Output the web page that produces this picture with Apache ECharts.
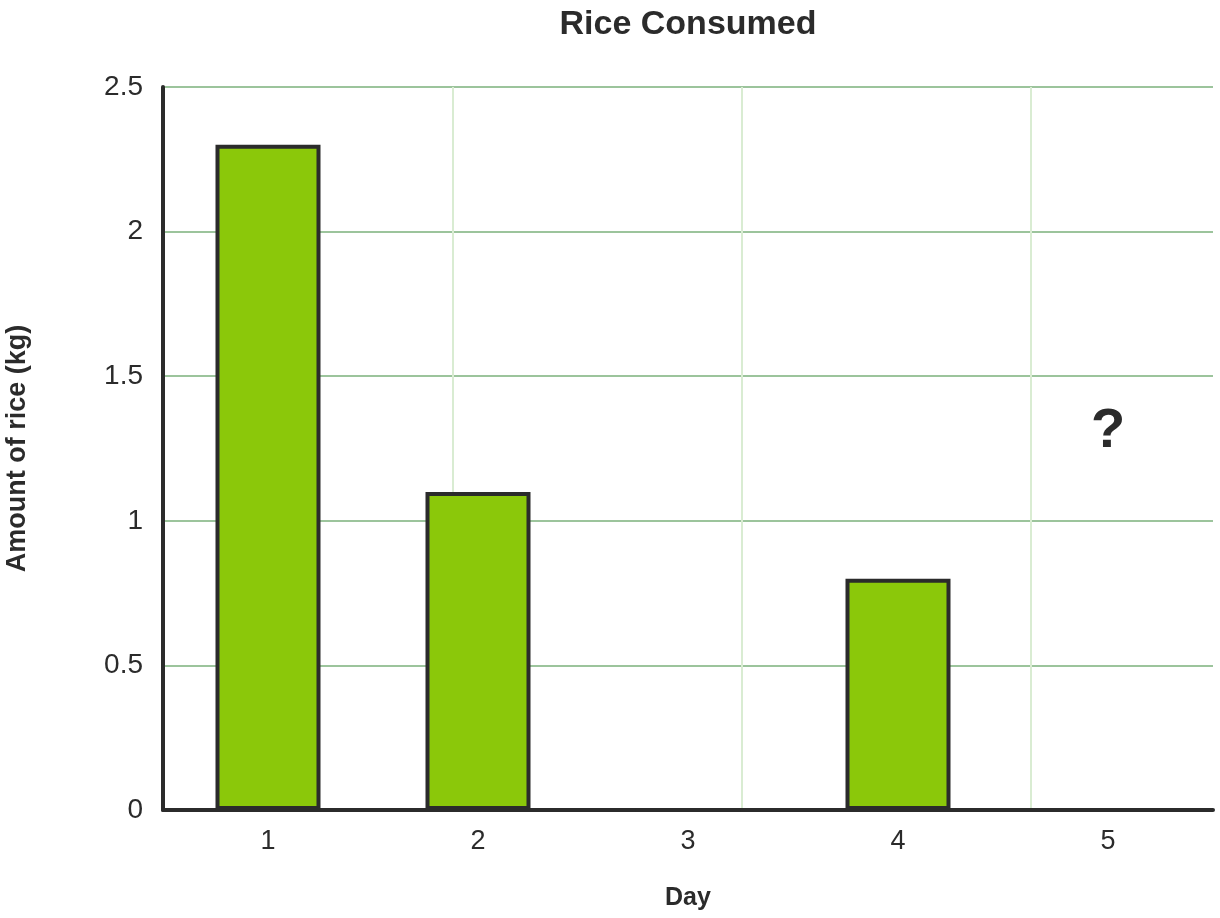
<!DOCTYPE html>
<html>
<head>
    <title>Rice Consumed</title>
    <meta charset="utf-8">
    <style>
        body { margin: 0; padding: 0; background: #fff; }
        #chart { width: 1220px; height: 918px; }
    </style>
</head>
<body>
    <script src="https://cdn.jsdelivr.net/npm/echarts@6/dist/echarts.min.js"></script>
    <div id="chart"></div>
    <script>
        // data
        const days = ['1', '2', '3', '4', '5'];
        const riceKg = [2.3, 1.1, 0, 0.8, null];
        const unknownMark = [null, null, null, null, 1.31];
        const yTicks = [0, 0.5, 1, 1.5, 2, 2.5];

        const font = '"Liberation Sans", Arial, sans-serif';
        const ink = '#2b2b2b';
        const chart = echarts.init(document.getElementById('chart'));
        chart.setOption({
            animation: false,
            title: {
                text: 'Rice Consumed',
                left: 683,
                textAlign: 'center',
                top: 3,
                textStyle: { fontFamily: font, fontSize: 34, fontWeight: 'bold', color: ink }
            },
            grid: { left: 163, right: 7, top: 87, bottom: 108, outerBoundsMode: 'none', containLabel: false },
            xAxis: [{
                type: 'category',
                data: days,
                name: 'Day',
                nameLocation: 'middle',
                nameGap: 76,
                nameTextStyle: { fontFamily: font, fontSize: 25, fontWeight: 'bold', color: ink },
                axisLine: { lineStyle: { color: ink, width: 4 } },
                axisTick: { show: false },
                axisLabel: { fontFamily: font, fontSize: 27, color: ink, margin: 18 },
                splitLine: { show: false }
            }, {
                // square background grid (one y-unit wide)
                type: 'value',
                min: 0,
                max: 3.63,
                interval: 1,
                axisLine: { show: false },
                axisTick: { show: false },
                axisLabel: { show: false },
                splitLine: { show: true, showMaxLine: false, lineStyle: { color: '#d9ecd2', width: 2 } }
            }],
            yAxis: {
                type: 'value',
                min: yTicks[0],
                max: yTicks[yTicks.length - 1],
                interval: 0.5,
                name: 'Amount of rice (kg)',
                nameLocation: 'middle',
                nameGap: 132,
                nameTextStyle: { fontFamily: font, fontSize: 27, fontWeight: 'bold', color: ink },
                axisLine: { show: true, lineStyle: { color: ink, width: 4 } },
                axisTick: { show: false },
                axisLabel: { fontFamily: font, fontSize: 28, color: ink, margin: 20 },
                splitLine: { lineStyle: { color: '#9cc49c', width: 2 } }
            },
            series: [{
                type: 'bar',
                data: riceKg,
                xAxisIndex: 0,
                barWidth: '50%',
                itemStyle: { color: '#8bc80a', borderColor: ink, borderWidth: 4 },
                z: 3
            }, {
                type: 'scatter',
                data: unknownMark,
                xAxisIndex: 0,
                symbolSize: 0,
                itemStyle: { color: ink, opacity: 1 },
                label: {
                    show: true,
                    position: 'inside',
                    formatter: '?',
                    fontFamily: font,
                    fontSize: 56,
                    fontWeight: 'bold',
                    color: ink,
                    textBorderWidth: 0
                }
            }]
        });
    </script>
</body>
</html>
